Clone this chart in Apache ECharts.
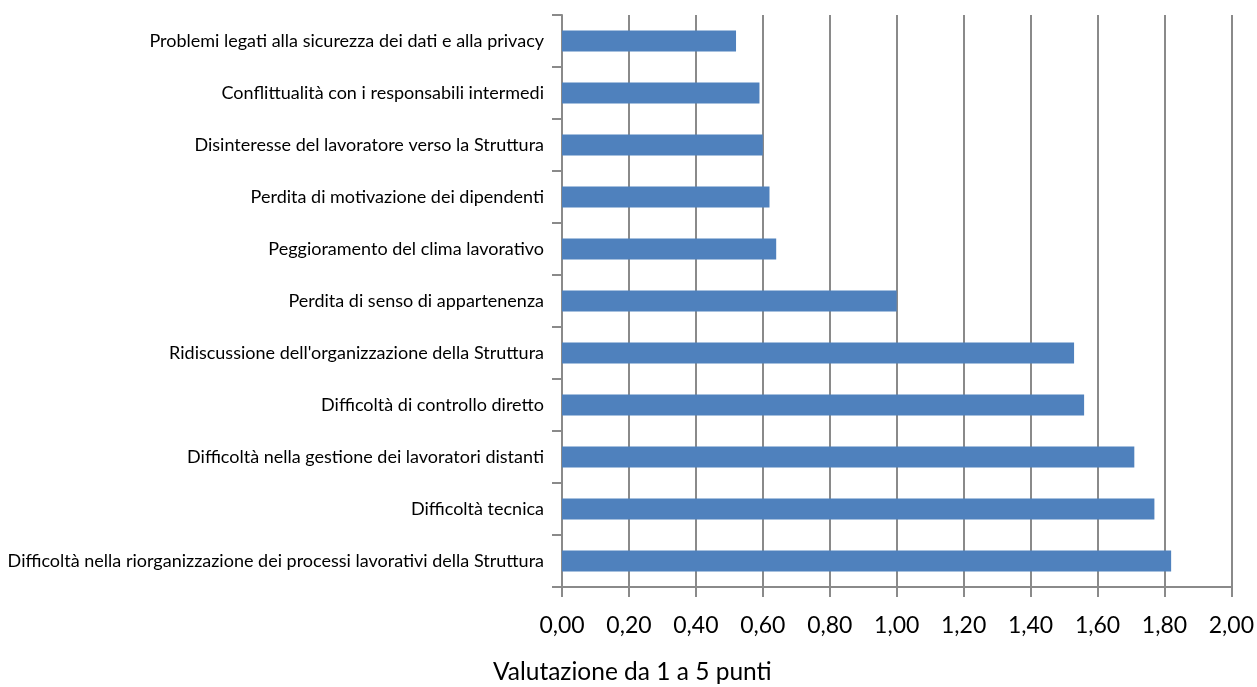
<!DOCTYPE html>
<html>
<head>
<meta charset="utf-8">
<style>
  html, body { margin: 0; padding: 0; background: #ffffff; }
  #chart { width: 1257px; height: 687px; }
</style>
<script src="https://cdn.jsdelivr.net/npm/echarts@6/dist/echarts.min.js"></script>
</head>
<body>
<div id="chart"></div>
<script>
// Criticità del lavoro a distanza, ordinate dall'alto verso il basso
const categories = [
  "Problemi legati alla sicurezza dei dati e alla privacy",
  "Conflittualità con i responsabili intermedi",
  "Disinteresse del lavoratore verso la Struttura",
  "Perdita di motivazione dei dipendenti",
  "Peggioramento del clima lavorativo",
  "Perdita di senso di appartenenza",
  "Ridiscussione dell'organizzazione della Struttura",
  "Difficoltà di controllo diretto",
  "Difficoltà nella gestione dei lavoratori distanti",
  "Difficoltà tecnica",
  "Difficoltà nella riorganizzazione dei processi lavorativi della Struttura"
];
const values = [0.52, 0.59, 0.60, 0.62, 0.64, 1.00, 1.53, 1.56, 1.71, 1.77, 1.82];
const axisTitle = "Valutazione da 1 a 5 punti";

const FONT = "Lato, 'Open Sans', sans-serif";
const GRAY = "#8a8a8a";

const chart = echarts.init(document.getElementById("chart"), null, { renderer: "canvas" });
chart.setOption({
  animation: false,
  backgroundColor: "#ffffff",
  title: {
    text: axisTitle,
    left: 488,
    bottom: -3,
    textStyle: { fontFamily: FONT, fontSize: 24.5, fontWeight: "normal", color: "#000" }
  },
  grid: { left: 562, right: 24, top: 15, bottom: 100, containLabel: false },
  xAxis: {
    type: "value",
    min: 0,
    max: 2,
    interval: 0.2,
    axisLine: { show: true, lineStyle: { color: GRAY, width: 2 } },
    axisTick: { show: true, length: 10, lineStyle: { color: GRAY, width: 2 } },
    splitLine: { show: true, lineStyle: { color: GRAY, width: 2 } },
    axisLabel: {
      margin: 27,
      fontFamily: FONT,
      fontSize: 23,
      color: "#000",
      formatter: v => v.toFixed(2).replace(".", ",")
    }
  },
  yAxis: {
    type: "category",
    inverse: true,
    data: categories,
    axisLine: { show: true, lineStyle: { color: GRAY, width: 2 } },
    axisTick: { show: true, length: 10, lineStyle: { color: GRAY, width: 2 } },
    axisLabel: { margin: 18, fontFamily: FONT, fontSize: 18, color: "#000" }
  },
  series: [{
    type: "bar",
    data: values,
    barWidth: 21,
    itemStyle: { color: "#4f81bd" }
  }]
});
</script>
</body>
</html>
